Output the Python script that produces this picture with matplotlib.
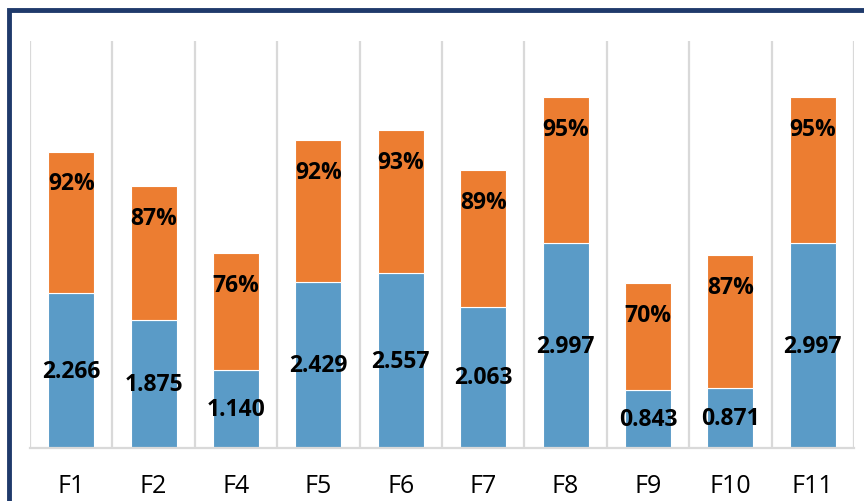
import matplotlib.pyplot as plt
from matplotlib.patches import Rectangle

plt.switch_backend("Agg")

categories = ["F1", "F2", "F4", "F5", "F6", "F7", "F8", "F9", "F10", "F11"]
scores = [2.266, 1.875, 1.140, 2.429, 2.557, 2.063, 2.997, 0.843, 0.871, 2.997]
shares = [92, 87, 76, 92, 93, 89, 95, 70, 87, 95]

BLUE = "#5A9BC7"
ORANGE = "#EC7D31"
SHARE_SCALE = 2.25  # stacked height for a 100% share


def main():
    fig = plt.figure(figsize=(8.64, 5.02), dpi=100)
    ax = fig.add_axes([0.0347, 0.1056, 0.9537, 0.8104])

    x = range(len(categories))
    share_heights = [s / 100 * SHARE_SCALE for s in shares]
    ax.bar(x, scores, width=0.56, color=BLUE, edgecolor="white", linewidth=0.8, zorder=2)
    ax.bar(x, share_heights, bottom=scores, width=0.56, color=ORANGE,
           edgecolor="white", linewidth=0.8, zorder=2)

    for i, (v, h, s) in enumerate(zip(scores, share_heights, shares)):
        ax.text(i, v / 2, f"{v:.3f}", ha="center", va="center",
                fontsize=16.5, fontweight="bold", family="Open Sans", zorder=3)
        ax.annotate(f"{s}%", (i, v + h), xytext=(0, -23), textcoords="offset points",
                    ha="center", va="center", fontsize=16.5, fontweight="bold",
                    family="Open Sans", zorder=3)

    ax.set_xlim(-0.5, len(categories) - 0.5)
    ax.set_ylim(0, 5.95)
    ax.set_yticks([])
    ax.set_xticks(list(x))
    ax.set_xticklabels(categories, fontsize=18, family="Open Sans")
    ax.tick_params(axis="x", length=0, pad=18)

    # separators between categories
    for b in range(len(categories) + 1):
        ax.axvline(b - 0.5, color="#D9D9D9", linewidth=1.6, zorder=1)
    for side in ("top", "left", "right"):
        ax.spines[side].set_visible(False)
    ax.spines["bottom"].set_color("#D9D9D9")
    ax.spines["bottom"].set_linewidth(1.6)

    # dark frame, running off the right and bottom edges
    fig.patches.append(Rectangle((0.0105, -0.05), 1.05, 0.978 + 0.05,
                                 transform=fig.transFigure, fill=False,
                                 edgecolor="#1F3A6B", linewidth=3.5))

    fig.savefig("out.png", dpi=100)
    plt.close(fig)


if __name__ == "__main__":
    main()
